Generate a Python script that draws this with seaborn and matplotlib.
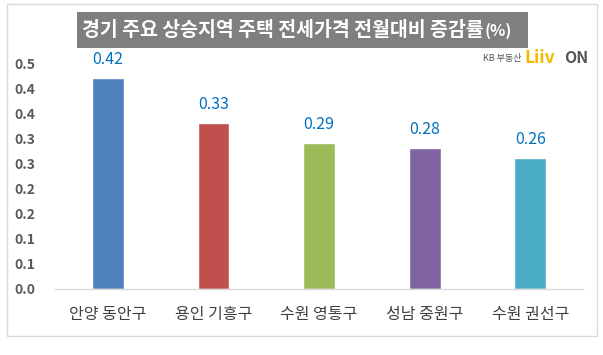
# plot.py
# Bar chart: monthly change in jeonse prices, selected Gyeonggi districts

import pandas as pd
import seaborn as sns
import numpy as np
import matplotlib.pyplot as plt
from matplotlib.patches import Rectangle
from matplotlib.ticker import FuncFormatter

# Data
districts = ['안양 동안구', '용인 기흥구', '수원 영통구', '성남 중원구', '수원 권선구']
change = [0.42, 0.33, 0.29, 0.28, 0.26]
bar_colors = ['#4f81bd', '#c0504d', '#9bbb59', '#8064a2', '#4bacc6']
y_ticks = [0.0, 0.05, 0.10, 0.15, 0.20, 0.25, 0.30, 0.35, 0.40, 0.45]

df = pd.DataFrame({'district': districts, 'change': change})

sns.set_style('white')
plt.rcParams['font.family'] = ['Noto Sans CJK KR', 'DejaVu Sans']

fig = plt.figure(figsize=(6.03, 3.55), dpi=100)
ax = fig.add_axes([0.0912, 0.186, 0.8758, 0.6365])

sns.barplot(data=df, x='district', y='change', hue='district', palette=bar_colors,
            width=0.3, legend=False, ax=ax, saturation=1)

# Value labels above the bars
for i, v in enumerate(change):
    ax.text(i, v + 0.02, f'{v:.2f}', ha='center', va='bottom',
            color='#0070c0', fontsize=11.5)

# Excel-like axis: ticks every 0.05 but shown with one decimal (rounded half up)
ax.set_ylim(0, 0.45)
ax.set_yticks(y_ticks)
ax.yaxis.set_major_formatter(FuncFormatter(lambda v, p: f'{np.floor(v * 10 + 0.5 + 1e-9) / 10:.1f}'))
ax.tick_params(axis='y', length=0, pad=14, labelsize=10, labelcolor='#595959')
for lab in ax.get_yticklabels():
    lab.set_fontweight('bold')
ax.tick_params(axis='x', length=0, pad=12, labelsize=11.5, labelcolor='#404040')
ax.set_xlim(-0.5, 4.5)
ax.set_xlabel('')
ax.set_ylabel('')

for side in ['left', 'right', 'top']:
    ax.spines[side].set_visible(False)
ax.spines['bottom'].set_color('#d9d9d9')
ax.spines['bottom'].set_linewidth(1)

# Outer chart frame
fig.patches.append(Rectangle((7 / 603, 1 - 336 / 355), 590 / 603, 332 / 355,
                             transform=fig.transFigure, fill=False,
                             edgecolor='#d9d9d9', linewidth=1))

# Title on a gray box
fig.patches.append(Rectangle((77 / 603, 1 - 48 / 355), 451 / 603, 36 / 355,
                             transform=fig.transFigure, facecolor='#7f7f7f',
                             edgecolor='none'))
title = fig.text(82 / 603, 1 - 30 / 355, '경기 주요 상승지역 주택 전세가격 전월대비 증감률',
                 ha='left', va='center', color='white', fontsize=14, fontweight='bold')
# put the smaller "(%)" right after the title text
fig.canvas.draw()
bb = title.get_window_extent().transformed(fig.transFigure.inverted())
fig.text(bb.x1 + 1 / 603, 1 - 31 / 355, '(%)', ha='left', va='center', color='white',
         fontsize=11.5, fontweight='bold')

# Logo text
fig.text(483 / 603, 1 - 58 / 355, 'KB 부동산', ha='left', va='center',
         color='#555555', fontsize=6.5)
fig.text(524 / 603, 1 - 58 / 355, 'Liiv', ha='left', va='center',
         color='#f5b800', fontsize=12.5, fontweight='heavy')
fig.text(564 / 603, 1 - 58 / 355, 'ON', ha='left', va='center',
         color='#555555', fontsize=11.5, fontweight='bold')

plt.savefig('out.png', dpi=100)
